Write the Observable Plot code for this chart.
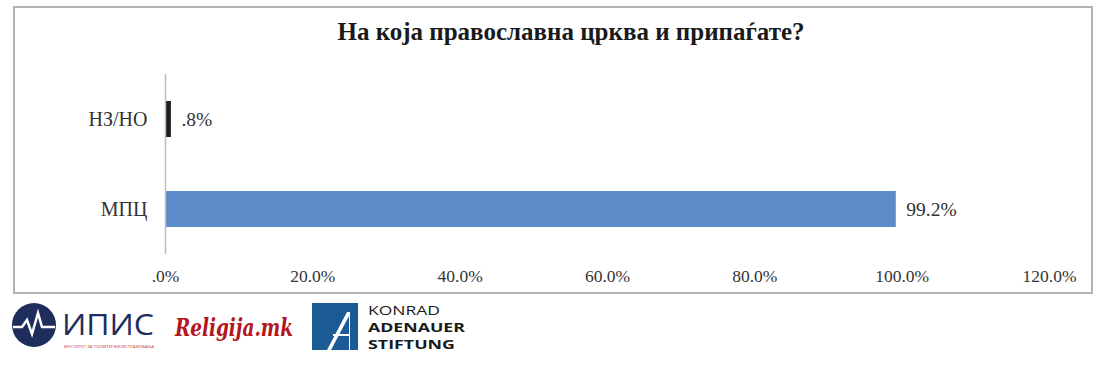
<!DOCTYPE html>
<html>
<head>
<meta charset="utf-8">
<script src="https://cdn.jsdelivr.net/npm/d3@7"></script>
<script src="https://cdn.jsdelivr.net/npm/@observablehq/plot@0.6"></script>
<style>
  body { margin: 0; background: #fff; font-family: "Liberation Serif", "Times New Roman", serif; }
  #box { position: absolute; left: 13px; top: 6px; width: 1076px; height: 284px; border: 2px solid #b3b3b3; background: #fff; }
  #title { height: 58px; line-height: 25px; padding-top: 11px; box-sizing: border-box; text-align: center; font-weight: bold; font-size: 25px; color: #1a1a1a; padding-left: 36px; }
  #logos { position: absolute; left: 0; top: 298px; width: 1110px; height: 60px; }
</style>
</head>
<body>
<div id="box">
  <div id="title">На која православна црква и припаѓате?</div>
  <div id="chart"></div>
</div>
<div id="logos">
  <svg width="480" height="60" xmlns="http://www.w3.org/2000/svg">
    <circle cx="34" cy="27" r="22" fill="#1e2d5c"/>
    <polyline points="13,29 22,29 27,22 32,36 38,15 42,29 55,29" fill="none" stroke="#fff" stroke-width="2.5"/>
    <text x="62" y="37" font-family="Open Sans, sans-serif" font-size="29" fill="#1e2d5c" textLength="92" lengthAdjust="spacingAndGlyphs">ИПИС</text>
    <text x="64" y="50" font-family="Open Sans, sans-serif" font-size="4" fill="#c0392b" textLength="90" lengthAdjust="spacingAndGlyphs">ИНСТИТУТ ЗА ПОЛИТИЧКИ ИСТРАЖУВАЊА</text>
    <text x="175" y="38" font-family="DejaVu Serif, serif" font-weight="bold" font-style="italic" font-size="24" fill="#b3161c" textLength="118" lengthAdjust="spacingAndGlyphs">Religija.mk</text>
    <rect x="312" y="5" width="46" height="47" fill="#1c5a95"/>
    <polygon points="327,52 347,14 350,14 350,52" fill="#fff"/>
    <polygon points="331,52 349,18 349,52" fill="#1c5a95"/>
    <rect x="333" y="36" width="16" height="2" fill="#fff"/>
    <text x="368" y="17" font-family="Open Sans, sans-serif" font-size="12.5" fill="#1a1a1a" textLength="72" lengthAdjust="spacingAndGlyphs">KONRAD</text>
    <text x="368" y="34" font-family="Open Sans, sans-serif" font-weight="bold" font-size="12.5" fill="#1a1a1a" textLength="97" lengthAdjust="spacingAndGlyphs">ADENAUER</text>
    <text x="368" y="51" font-family="Open Sans, sans-serif" font-weight="bold" font-size="12.5" fill="#1a1a1a" textLength="87" lengthAdjust="spacingAndGlyphs">STIFTUNG</text>
  </svg>
</div>
<script>
const categories = ["НЗ/НО", "МПЦ"];
const values = [0.8, 99.2];
const barColors = ["#1f1f1f", "#5b8bc9"];
const xTicks = [0, 20, 40, 60, 80, 100, 120];

const fmt = v => { const s = v.toFixed(1); return (s.startsWith("0.") ? s.slice(1) : s) + "%"; };
const data = categories.map((c, i) => ({category: c, value: values[i], color: barColors[i]}));

const chart = Plot.plot({
  width: 1076,
  height: 226,
  marginLeft: 150,
  marginRight: 42,
  marginTop: 8,
  marginBottom: 38,
  style: {fontFamily: "'Liberation Serif', 'Times New Roman', serif", fontSize: "17px", color: "#333", background: "transparent"},
  x: {domain: [0, 120], ticks: xTicks, tickFormat: fmt, label: null},
  y: {domain: categories, paddingInner: 0.6, paddingOuter: 0.3, label: null},
  marks: [
    Plot.axisX({ticks: xTicks, tickFormat: fmt, tickSize: 0, tickPadding: 15, fontSize: 17.5, fill: "#333", label: null}),
    Plot.axisY({tickSize: 0, tickPadding: 18, fontSize: 20, fill: "#333", label: null}),
    Plot.barX(data, {x: "value", y: "category", fill: "color"}),
    Plot.ruleX([0], {stroke: "#bdbdbd", strokeWidth: 1.5}),
    Plot.ruleY([0], {frameAnchor: "bottom", stroke: "#bdbdbd", strokeWidth: 1.5}),
    Plot.text(data, {x: "value", y: "category", text: d => fmt(d.value), textAnchor: "start", dx: 10, fontSize: 19.5, fill: "#333"})
  ]
});
document.getElementById("chart").appendChild(chart);
</script>
</body>
</html>
